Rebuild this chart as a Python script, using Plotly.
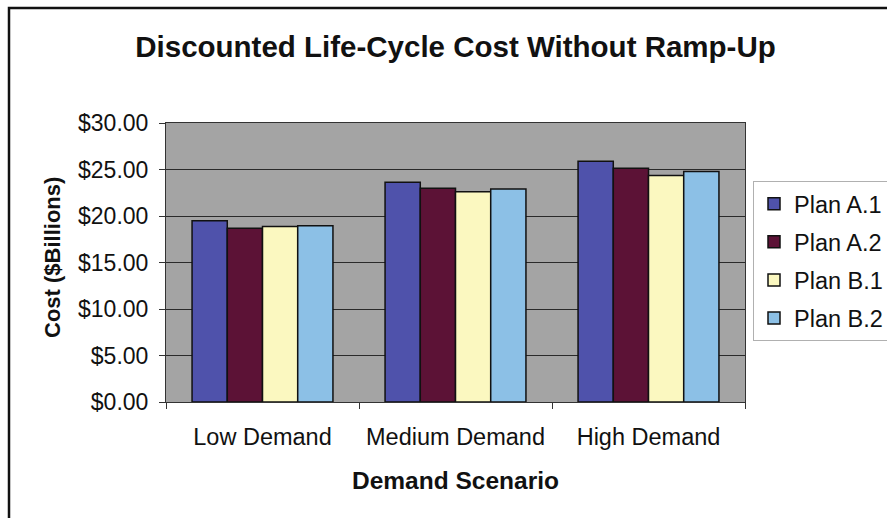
import plotly.graph_objects as go

# Discounted life-cycle cost (in $ billions) per demand scenario and plan
scenarios = ["Low Demand", "Medium Demand", "High Demand"]
plan_names = ["Plan A.1", "Plan A.2", "Plan B.1", "Plan B.2"]
plan_a1 = [19.48, 23.63, 25.90]
plan_a2 = [18.69, 22.98, 25.14]
plan_b1 = [18.87, 22.62, 24.35]
plan_b2 = [18.94, 22.91, 24.78]
tick_values = [0, 5, 10, 15, 20, 25, 30]
tick_labels = ["$0.00", "$5.00", "$10.00", "$15.00", "$20.00", "$25.00", "$30.00"]

series = [plan_a1, plan_a2, plan_b1, plan_b2]
colors = ["#4f52ab", "#5c1236", "#fbf8c0", "#8cc0e6"]

FONT = "Liberation Sans, Arial, sans-serif"

fig = go.Figure()
for name, vals, col in zip(plan_names, series, colors):
    fig.add_trace(go.Bar(
        x=scenarios, y=vals, name=name, legendgroup=name,
        marker=dict(color=col, line=dict(color="#111111", width=1.5)),
    ))

fig.update_layout(
    width=887, height=518,
    margin=dict(l=166, r=142, t=123, b=116, autoexpand=False),
    paper_bgcolor="white",
    plot_bgcolor="#a4a4a4",
    barmode="group",
    bargap=0.27,
    bargroupgap=0.0,
    font=dict(family=FONT, color="#111111"),
    showlegend=True,
    legend=dict(
        x=(753 - 166) / 579, xanchor="left", y=(402 - 181) / 279, yanchor="top",
        bordercolor="#b0b0b0", borderwidth=1, bgcolor="white",
        font=dict(size=23.5, family=FONT, color="#111111"),
        tracegroupgap=4.5, itemwidth=30,
    ),
    xaxis=dict(
        showline=True, linecolor="#333333", linewidth=1, mirror=True,
        ticks="outside", ticklen=6, tickcolor="#333333",
        tickson="boundaries",
        tickfont=dict(size=23.5, family=FONT, color="#111111"),
        ticklabelstandoff=14,
        showgrid=False,
    ),
    yaxis=dict(
        range=[0, 30],
        tickvals=tick_values, ticktext=tick_labels,
        showline=True, linecolor="#333333", linewidth=1, mirror=True,
        ticks="outside", ticklen=6, tickcolor="#333333",
        tickfont=dict(size=23, family=FONT, color="#111111"),
        ticklabelstandoff=6,
        showgrid=True, gridcolor="#2a2a2a", gridwidth=1,
        zeroline=False,
    ),
    title=dict(
        text="<b>Discounted Life-Cycle Cost Without Ramp-Up</b>",
        x=0.5, xref="paper", xanchor="center",
        y=1 - 47 / 518, yref="container", yanchor="middle",
        font=dict(size=29.5, family=FONT, color="#111111"),
    ),
)

# axis titles placed as annotations
fig.add_annotation(
    text="<b>Cost ($Billions)</b>", textangle=-90,
    xref="paper", yref="paper",
    x=(52 - 166) / 579, y=(402 - 258) / 279,
    xanchor="center", yanchor="middle", showarrow=False,
    font=dict(size=22, family=FONT, color="#111111"),
)
fig.add_annotation(
    text="<b>Demand Scenario</b>",
    xref="paper", yref="paper",
    x=0.5, y=(402 - 481) / 279,
    xanchor="center", yanchor="middle", showarrow=False,
    font=dict(size=24.5, family=FONT, color="#111111"),
)

# outer chart frame (left and top edges visible)
fig.add_shape(
    type="rect", xref="paper", yref="paper",
    x0=(9 - 166) / 579, x1=(900 - 166) / 579,
    y0=(402 - 530) / 279, y1=(402 - 8) / 279,
    line=dict(color="#111111", width=2.5), fillcolor="rgba(0,0,0,0)",
    layer="below",
)

fig.write_html("out.html")
